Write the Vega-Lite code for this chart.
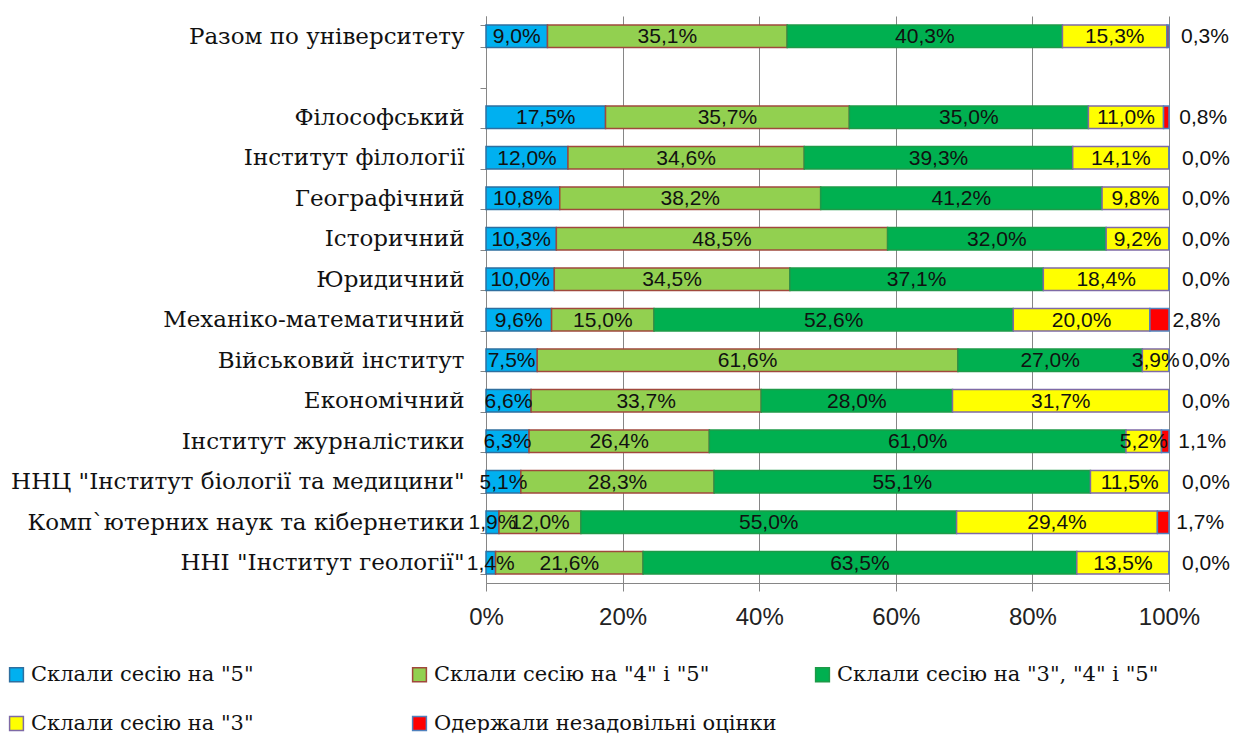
{
  "$schema": "https://vega.github.io/schema/vega-lite/v6.json",
  "autosize": {"type": "none"},
  "padding": {"left": 486, "top": 16, "right": 75, "bottom": 150},
  "width": 683,
  "height": 567,
  "background": "white",
  "config": {
    "view": {"stroke": null},
    "locale": {"number": {"decimal": ",", "thousands": " ", "grouping": [3], "currency": ["", " ₴"]}}
  },
  "data": {"values": [
    {"f": "Разом по університету", "s": "Склали сесію на \"5\"", "v": 0.090},
    {"f": "Разом по університету", "s": "Склали сесію на \"4\" і \"5\"", "v": 0.351},
    {"f": "Разом по університету", "s": "Склали сесію на \"3\", \"4\" і \"5\"", "v": 0.403},
    {"f": "Разом по університету", "s": "Склали сесію на \"3\"", "v": 0.153},
    {"f": "Разом по університету", "s": "Одержали незадовільні оцінки", "v": 0.003},
    {"f": "Філософський", "s": "Склали сесію на \"5\"", "v": 0.175},
    {"f": "Філософський", "s": "Склали сесію на \"4\" і \"5\"", "v": 0.357},
    {"f": "Філософський", "s": "Склали сесію на \"3\", \"4\" і \"5\"", "v": 0.350},
    {"f": "Філософський", "s": "Склали сесію на \"3\"", "v": 0.110},
    {"f": "Філософський", "s": "Одержали незадовільні оцінки", "v": 0.008},
    {"f": "Інститут філології", "s": "Склали сесію на \"5\"", "v": 0.120},
    {"f": "Інститут філології", "s": "Склали сесію на \"4\" і \"5\"", "v": 0.346},
    {"f": "Інститут філології", "s": "Склали сесію на \"3\", \"4\" і \"5\"", "v": 0.393},
    {"f": "Інститут філології", "s": "Склали сесію на \"3\"", "v": 0.141},
    {"f": "Інститут філології", "s": "Одержали незадовільні оцінки", "v": 0.0},
    {"f": "Географічний", "s": "Склали сесію на \"5\"", "v": 0.108},
    {"f": "Географічний", "s": "Склали сесію на \"4\" і \"5\"", "v": 0.382},
    {"f": "Географічний", "s": "Склали сесію на \"3\", \"4\" і \"5\"", "v": 0.412},
    {"f": "Географічний", "s": "Склали сесію на \"3\"", "v": 0.098},
    {"f": "Географічний", "s": "Одержали незадовільні оцінки", "v": 0.0},
    {"f": "Історичний", "s": "Склали сесію на \"5\"", "v": 0.103},
    {"f": "Історичний", "s": "Склали сесію на \"4\" і \"5\"", "v": 0.485},
    {"f": "Історичний", "s": "Склали сесію на \"3\", \"4\" і \"5\"", "v": 0.320},
    {"f": "Історичний", "s": "Склали сесію на \"3\"", "v": 0.092},
    {"f": "Історичний", "s": "Одержали незадовільні оцінки", "v": 0.0},
    {"f": "Юридичний", "s": "Склали сесію на \"5\"", "v": 0.100},
    {"f": "Юридичний", "s": "Склали сесію на \"4\" і \"5\"", "v": 0.345},
    {"f": "Юридичний", "s": "Склали сесію на \"3\", \"4\" і \"5\"", "v": 0.371},
    {"f": "Юридичний", "s": "Склали сесію на \"3\"", "v": 0.184},
    {"f": "Юридичний", "s": "Одержали незадовільні оцінки", "v": 0.0},
    {"f": "Механіко-математичний", "s": "Склали сесію на \"5\"", "v": 0.096},
    {"f": "Механіко-математичний", "s": "Склали сесію на \"4\" і \"5\"", "v": 0.150},
    {"f": "Механіко-математичний", "s": "Склали сесію на \"3\", \"4\" і \"5\"", "v": 0.526},
    {"f": "Механіко-математичний", "s": "Склали сесію на \"3\"", "v": 0.200},
    {"f": "Механіко-математичний", "s": "Одержали незадовільні оцінки", "v": 0.028},
    {"f": "Військовий інститут", "s": "Склали сесію на \"5\"", "v": 0.075},
    {"f": "Військовий інститут", "s": "Склали сесію на \"4\" і \"5\"", "v": 0.616},
    {"f": "Військовий інститут", "s": "Склали сесію на \"3\", \"4\" і \"5\"", "v": 0.270},
    {"f": "Військовий інститут", "s": "Склали сесію на \"3\"", "v": 0.039},
    {"f": "Військовий інститут", "s": "Одержали незадовільні оцінки", "v": 0.0},
    {"f": "Економічний", "s": "Склали сесію на \"5\"", "v": 0.066},
    {"f": "Економічний", "s": "Склали сесію на \"4\" і \"5\"", "v": 0.337},
    {"f": "Економічний", "s": "Склали сесію на \"3\", \"4\" і \"5\"", "v": 0.280},
    {"f": "Економічний", "s": "Склали сесію на \"3\"", "v": 0.317},
    {"f": "Економічний", "s": "Одержали незадовільні оцінки", "v": 0.0},
    {"f": "Інститут журналістики", "s": "Склали сесію на \"5\"", "v": 0.063},
    {"f": "Інститут журналістики", "s": "Склали сесію на \"4\" і \"5\"", "v": 0.264},
    {"f": "Інститут журналістики", "s": "Склали сесію на \"3\", \"4\" і \"5\"", "v": 0.610},
    {"f": "Інститут журналістики", "s": "Склали сесію на \"3\"", "v": 0.052},
    {"f": "Інститут журналістики", "s": "Одержали незадовільні оцінки", "v": 0.011},
    {"f": "ННЦ \"Інститут біології та медицини\"", "s": "Склали сесію на \"5\"", "v": 0.051},
    {"f": "ННЦ \"Інститут біології та медицини\"", "s": "Склали сесію на \"4\" і \"5\"", "v": 0.283},
    {"f": "ННЦ \"Інститут біології та медицини\"", "s": "Склали сесію на \"3\", \"4\" і \"5\"", "v": 0.551},
    {"f": "ННЦ \"Інститут біології та медицини\"", "s": "Склали сесію на \"3\"", "v": 0.115},
    {"f": "ННЦ \"Інститут біології та медицини\"", "s": "Одержали незадовільні оцінки", "v": 0.0},
    {"f": "Комп`ютерних наук та кібернетики", "s": "Склали сесію на \"5\"", "v": 0.019},
    {"f": "Комп`ютерних наук та кібернетики", "s": "Склали сесію на \"4\" і \"5\"", "v": 0.120},
    {"f": "Комп`ютерних наук та кібернетики", "s": "Склали сесію на \"3\", \"4\" і \"5\"", "v": 0.550},
    {"f": "Комп`ютерних наук та кібернетики", "s": "Склали сесію на \"3\"", "v": 0.294},
    {"f": "Комп`ютерних наук та кібернетики", "s": "Одержали незадовільні оцінки", "v": 0.017},
    {"f": "ННІ \"Інститут геології\"", "s": "Склали сесію на \"5\"", "v": 0.014},
    {"f": "ННІ \"Інститут геології\"", "s": "Склали сесію на \"4\" і \"5\"", "v": 0.216},
    {"f": "ННІ \"Інститут геології\"", "s": "Склали сесію на \"3\", \"4\" і \"5\"", "v": 0.635},
    {"f": "ННІ \"Інститут геології\"", "s": "Склали сесію на \"3\"", "v": 0.135},
    {"f": "ННІ \"Інститут геології\"", "s": "Одержали незадовільні оцінки", "v": 0.0}
  ]},
  "transform": [
    {"stack": "v", "groupby": ["f"], "sort": [{"field": "s", "order": "descending"}], "as": ["x0", "x1"]},
    {"calculate": "(datum.x0 + datum.x1) / 2", "as": "mid"}
  ],
  "encoding": {
    "y": {
      "field": "f", "type": "nominal", "title": null,
      "scale": {
        "domain": ["Разом по університету", "", "Філософський", "Інститут філології", "Географічний", "Історичний", "Юридичний", "Механіко-математичний", "Військовий інститут", "Економічний", "Інститут журналістики", "ННЦ \"Інститут біології та медицини\"", "Комп`ютерних наук та кібернетики", "ННІ \"Інститут геології\""],
        "paddingInner": 0.45, "paddingOuter": 0.225
      },
      "axis": {
        "domainColor": "#868686", "domainWidth": 1, "tickColor": "#868686", "tickSize": 6, "tickBand": "extent",
        "labelFont": "DejaVu Serif", "labelFontSize": 23, "labelColor": "#111111", "labelPadding": 16, "labelLimit": 500
      }
    }
  },
  "layer": [
    {
      "mark": {"type": "bar", "strokeWidth": 1.5},
      "encoding": {
        "x": {
          "field": "x0", "type": "quantitative", "title": null,
          "scale": {"domain": [0, 1], "nice": false},
          "axis": {
            "format": ".0%", "values": [0, 0.2, 0.4, 0.6, 0.8, 1], "labelFlush": false,
            "grid": true, "gridColor": "#868686", "gridWidth": 1,
            "domainColor": "#868686", "tickColor": "#868686", "tickSize": 8,
            "labelFont": "Liberation Sans", "labelFontSize": 24, "labelColor": "#222222", "labelPadding": 14
          }
        },
        "x2": {"field": "x1"},
        "fill": {
          "field": "s", "type": "nominal", "title": null,
          "scale": {
            "domain": ["Склали сесію на \"5\"", "Склали сесію на \"4\" і \"5\"", "Склали сесію на \"3\", \"4\" і \"5\"", "Склали сесію на \"3\"", "Одержали незадовільні оцінки"],
            "range": ["#00B0F0", "#92D050", "#00B050", "#FFFF00", "#FF0000"]
          },
          "legend": {
            "orient": "none", "legendX": -480, "legendY": 648, "columns": 3, "direction": "horizontal", "gridAlign": "all",
            "columnPadding": 35, "rowPadding": 27, "symbolType": "square", "symbolSize": 190, "symbolStrokeWidth": 1.5,
            "labelFont": "DejaVu Serif", "labelFontSize": 21, "labelColor": "#111111", "labelLimit": 500, "labelOffset": 4
          }
        },
        "stroke": {
          "field": "s", "type": "nominal", "title": null,
          "scale": {
            "domain": ["Склали сесію на \"5\"", "Склали сесію на \"4\" і \"5\"", "Склали сесію на \"3\", \"4\" і \"5\"", "Склали сесію на \"3\"", "Одержали незадовільні оцінки"],
            "range": ["#2F6F9F", "#A0483C", "#1E9A48", "#7E6AA6", "#4F81BD"]
          }
        },
        "order": {"field": "s", "sort": "descending"}
      }
    },
    {
      "mark": {"type": "text", "font": "Liberation Sans", "fontSize": 21, "color": "#111111", "align": "center", "baseline": "middle", "dy": 1},
      "transform": [{"filter": "datum.s !== 'Одержали незадовільні оцінки'"}],
      "encoding": {
        "x": {"field": "mid", "type": "quantitative"},
        "text": {"field": "v", "type": "quantitative", "format": ".1%"}
      }
    },
    {
      "mark": {"type": "text", "font": "Liberation Sans", "fontSize": 21, "color": "#111111", "align": "center", "baseline": "middle", "dx": 37, "dy": 1},
      "transform": [{"filter": "datum.s === 'Одержали незадовільні оцінки'"}],
      "encoding": {
        "x": {"field": "mid", "type": "quantitative"},
        "text": {"field": "v", "type": "quantitative", "format": ".1%"}
      }
    }
  ]
}
